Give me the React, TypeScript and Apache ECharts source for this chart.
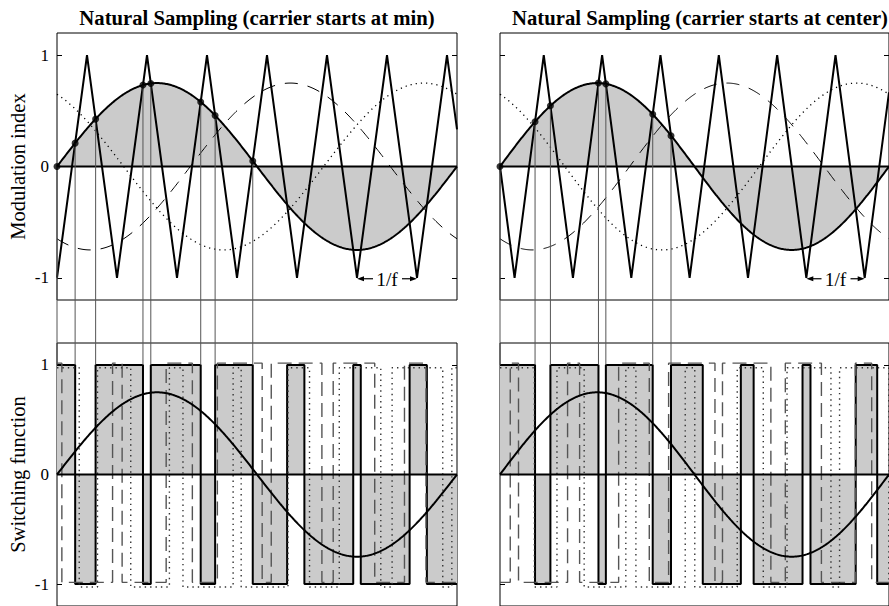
import React, { useEffect, useRef } from "react";
import * as echarts from "echarts";

// ---- values ----
const TITLES = [
  "Natural Sampling (carrier starts at min)",
  "Natural Sampling (carrier starts at center)",
];
const Y_NAMES = ["Modulation index", "Switching function"];
const Y_TICKS = [-1, 0, 1];
const MOD_AMPLITUDE = 0.75; // peak of the modulating sine
const PHASE_DEG = [0, -120, 120]; // solid, dashed, dotted phases
const CARRIER_PERIOD = 0.15; // 1/f as a fraction of the modulation period
const CARRIER_SHIFT = [0, 0.1125]; // left: starts at min, right: starts at center (falling)
const DOTS_T = [
  [0, 0.0453, 0.0966, 0.2149, 0.2345, 0.3593, 0.3953, 0.4894],
  [0, 0.0901, 0.1296, 0.2531, 0.2721, 0.3926, 0.4396],
];
const DOTS_Y = [
  [0, 0.21, 0.426, 0.732, 0.7466, 0.58, 0.4585, 0.05],
  [0, 0.402, 0.5455, 0.7498, 0.7425, 0.469, 0.277],
];
const PERIOD_MARK_T = [
  [0.75, 0.9],
  [0.7875, 0.9375],
];
const SWITCH_OFFSET = [0, 0.016, -0.026];

// ---- layout ----
const GRID_LEFT = [57, 500];
const GRID_TOP = [33, 343];
const GRID_W = 400;
const GRID_H = 267;
const SERIF = "Liberation Serif";
const FILL = "#cbcbcb";

const modulation = (t: number, k: number) =>
  MOD_AMPLITUDE * Math.sin(2 * Math.PI * t + (PHASE_DEG[k] * Math.PI) / 180);

const carrier = (t: number, p: number) => {
  let u = ((t + CARRIER_SHIFT[p]) / CARRIER_PERIOD) % 1;
  if (u < 0) u += 1;
  return u < 0.5 ? -1 + 4 * u : 3 - 4 * u;
};

function sinePoints(k: number) {
  const pts: number[][] = [];
  const n = 400;
  for (let i = 0; i <= n; i++) {
    const t = i / n;
    pts.push([t, modulation(t, k)]);
  }
  return pts;
}

function carrierPoints(p: number) {
  const pts: number[][] = [[0, carrier(0, p)]];
  const half = CARRIER_PERIOD / 2;
  for (let k = Math.ceil(CARRIER_SHIFT[p] / half - 1e-9); ; k++) {
    const t = k * half - CARRIER_SHIFT[p];
    if (t >= 1 - 1e-9) break;
    if (t > 1e-9) pts.push([t, k % 2 === 0 ? -1 : 1]);
  }
  pts.push([1, carrier(1, p)]);
  return pts;
}

function switchingPoints(p: number, k: number) {
  const f = (t: number) => modulation(t, k) - carrier(t, p);
  const n = 4000;
  const roots: number[] = [];
  let prevT = 1e-7;
  let prevV = f(prevT);
  for (let i = 1; i <= n; i++) {
    const t = i / n;
    const v = f(t);
    if (prevV > 0 !== v > 0) {
      let a = prevT;
      let b = t;
      for (let j = 0; j < 50; j++) {
        const m = (a + b) / 2;
        if (f(m) > 0 === prevV > 0) a = m;
        else b = m;
      }
      roots.push((a + b) / 2);
    }
    prevT = t;
    prevV = v;
  }
  const off = SWITCH_OFFSET[k];
  let s = f(1e-7) > 0 ? 1 : -1;
  const pts: number[][] = [[0, s + off]];
  roots.forEach((r) => {
    pts.push([r, s + off]);
    s = -s;
    pts.push([r, s + off]);
  });
  pts.push([1, s + off]);
  return pts;
}

export default function App() {
  const ref = useRef<HTMLDivElement>(null);

  useEffect(() => {
    if (!ref.current) return;
    const chart = echarts.init(ref.current, undefined, { renderer: "svg" });

    const grids: any[] = [];
    const xAxes: any[] = [];
    const yAxes: any[] = [];
    const series: any[] = [];

    for (let row = 0; row < 2; row++) {
      for (let p = 0; p < 2; p++) {
        const g = row * 2 + p;
        grids.push({
          left: GRID_LEFT[p],
          top: GRID_TOP[row],
          width: GRID_W,
          height: GRID_H,
          show: true,
          borderColor: "#000",
          borderWidth: 1,
          backgroundColor: "transparent",
        });
        xAxes.push({ gridIndex: g, type: "value", min: 0, max: 1, show: false });
        [0, 1].forEach((side) => {
          const withLabels = side === 0 && p === 0;
          yAxes.push({
            gridIndex: g,
            type: "value",
            min: -1.2,
            max: 1.2,
            position: side === 0 ? "left" : "right",
            axisLine: { show: false },
            splitLine: { show: false },
            axisTick: {
              show: true,
              inside: true,
              length: 5,
              customValues: Y_TICKS,
              lineStyle: { color: "#000", width: 1 },
            },
            axisLabel: {
              show: withLabels,
              customValues: Y_TICKS,
              formatter: (v: number) => String(v),
              fontFamily: SERIF,
              fontSize: 17,
              color: "#000",
              margin: 8,
            },
            name: withLabels ? Y_NAMES[row] : "",
            nameLocation: "middle",
            nameGap: 29,
            nameTextStyle: { fontFamily: SERIF, fontSize: 20.5, color: "#000" },
          });
        });
        const ax = { xAxisIndex: g, yAxisIndex: g * 2 };
        const base = { ...ax, type: "line", showSymbol: false, symbol: "none", silent: true, animation: false };
        if (row === 0) {
          series.push({
            ...base,
            data: sinePoints(0),
            lineStyle: { color: "#000", width: 2 },
            areaStyle: { color: FILL, opacity: 1, origin: "auto" },
            z: 2,
          });
          series.push({
            ...base,
            data: sinePoints(1),
            lineStyle: { color: "#000", width: 1, type: [13, 10] },
            z: 3,
          });
          series.push({
            ...base,
            data: sinePoints(2),
            lineStyle: { color: "#000", width: 1.3, type: [1.2, 4] },
            z: 3,
          });
          series.push({
            ...base,
            data: [
              [0, 0],
              [1, 0],
            ],
            lineStyle: { color: "#000", width: 2 },
            z: 4,
          });
          series.push({
            ...base,
            data: carrierPoints(p),
            lineStyle: { color: "#000", width: 2 },
            z: 4,
          });
          series.push({
            ...ax,
            type: "scatter",
            data: DOTS_T[p].map((t, i) => [t, DOTS_Y[p][i]]),
            symbol: "circle",
            symbolSize: 7,
            itemStyle: { color: "#000" },
            silent: true,
            animation: false,
            z: 8,
          });
        } else {
          series.push({
            ...base,
            data: switchingPoints(p, 0),
            lineStyle: { color: "#000", width: 2 },
            areaStyle: { color: FILL, opacity: 1, origin: "auto" },
            z: 2,
          });
          series.push({
            ...base,
            data: switchingPoints(p, 1),
            lineStyle: { color: "#555", width: 1.4, type: [14, 7] },
            z: 3,
          });
          series.push({
            ...base,
            data: switchingPoints(p, 2),
            lineStyle: { color: "#333", width: 1.4, type: [1.4, 4] },
            z: 3,
          });
          series.push({
            ...base,
            data: [
              [0, 0],
              [1, 0],
            ],
            lineStyle: { color: "#000", width: 2 },
            z: 4,
          });
          series.push({
            ...base,
            data: sinePoints(0),
            lineStyle: { color: "#000", width: 2 },
            z: 5,
          });
        }
      }
    }

    chart.setOption({
      animation: false,
      backgroundColor: "#fff",
      title: TITLES.map((text, p) => ({
        text,
        left: GRID_LEFT[p] + GRID_W / 2,
        top: 7.6,
        padding: 0,
        textAlign: "center",
        textStyle: { fontFamily: SERIF, fontWeight: "bold", fontSize: 20.7, color: "#000" },
      })),
      grid: grids,
      xAxis: xAxes,
      yAxis: yAxes,
      series,
    });

    const graphics: any[] = [];
    for (let p = 0; p < 2; p++) {
      DOTS_T[p].forEach((t, i) => {
        const a = chart.convertToPixel({ gridIndex: p } as any, [t, DOTS_Y[p][i]]) as number[];
        const b = chart.convertToPixel({ gridIndex: p + 2 } as any, [t, 1]) as number[];
        graphics.push({
          type: "line",
          silent: true,
          z: 6,
          shape: { x1: a[0], y1: a[1], x2: b[0], y2: b[1] },
          style: { stroke: "#555", lineWidth: 1 },
        });
      });
      const [t1, t2] = PERIOD_MARK_T[p];
      const l = chart.convertToPixel({ gridIndex: p } as any, [t1, -1]) as number[];
      const r = chart.convertToPixel({ gridIndex: p } as any, [t2, -1]) as number[];
      const mid = (l[0] + r[0]) / 2;
      const y = l[1] + 1;
      graphics.push({
        type: "text",
        silent: true,
        z: 7,
        x: mid,
        y: y + 1,
        style: {
          text: "1/f",
          fontFamily: SERIF,
          fontSize: 19.5,
          fill: "#000",
          align: "center",
          verticalAlign: "middle",
        },
      });
      graphics.push({
        type: "line",
        silent: true,
        z: 7,
        shape: { x1: mid - 14, y1: y, x2: l[0] + 4, y2: y },
        style: { stroke: "#000", lineWidth: 1.2 },
      });
      graphics.push({
        type: "line",
        silent: true,
        z: 7,
        shape: { x1: mid + 15, y1: y, x2: r[0] - 4, y2: y },
        style: { stroke: "#000", lineWidth: 1.2 },
      });
      graphics.push({
        type: "polygon",
        silent: true,
        z: 7,
        shape: { points: [[l[0], y], [l[0] + 7, y - 2.6], [l[0] + 7, y + 2.6]] },
        style: { fill: "#000" },
      });
      graphics.push({
        type: "polygon",
        silent: true,
        z: 7,
        shape: { points: [[r[0], y], [r[0] - 7, y - 2.6], [r[0] - 7, y + 2.6]] },
        style: { fill: "#000" },
      });
    }
    chart.setOption({ graphic: graphics });

    return () => chart.dispose();
  }, []);

  return (
    <div
      ref={ref}
      style={{ position: "fixed", left: 0, top: 0, width: 889, height: 606, background: "#fff" }}
    />
  );
}
